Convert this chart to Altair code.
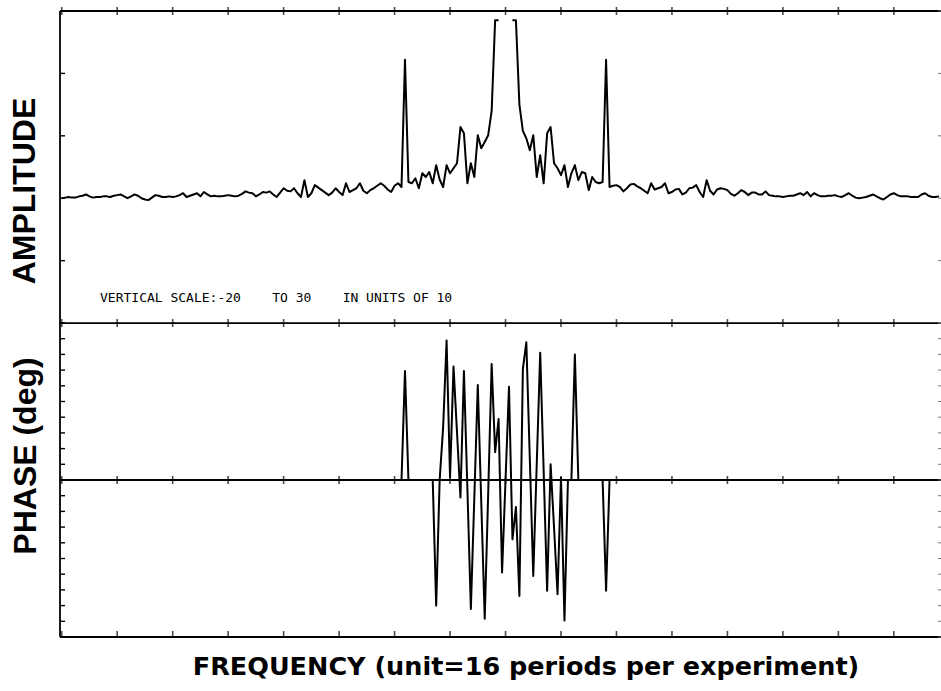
import altair as alt
import pandas as pd

# ---- data ----
amp_freq = list(range(-128, 126))
amp_values = [
    0.0, 0.1, 0.2, 0.1, 0.1, 0.3, 0.4, 0.6, 0.3, 0.1,
    0.2, 0.2, 0.3, 0.3, 0.2, 0.4, 0.5, 0.6, 0.3, 0.0,
    0.3, 0.6, 0.4, 0.0, -0.2, -0.3, 0.1, 0.5, 0.4, 0.2,
    0.2, 0.3, 0.2, 0.3, 0.5, 0.8, 0.2, 0.4, 0.6, 0.8,
    0.3, 1.0, 0.6, 0.3, 0.4, 0.3, 0.3, 0.4, 0.5, 0.4,
    0.3, 0.4, 0.7, 1.1, 0.9, 0.8, 0.3, 0.6, 1.0, 0.9,
    1.1, 0.6, 0.2, 0.9, 1.6, 1.2, 1.1, 1.6, 0.8, 0.2,
    2.9, 0.2, 0.8, 2.1, 1.7, 1.3, 0.9, 0.5, 0.9, 1.6,
    1.0, 0.5, 2.4, 1.0, 1.3, 1.6, 2.4, 1.2, 0.8, 1.3,
    1.6, 2.0, 2.4, 2.0, 1.4, 1.0, 2.0, 2.4, 1.8, 22.2,
    2.6, 2.4, 3.2, 1.6, 4.0, 3.4, 4.2, 2.4, 5.3, 3.0,
    1.8, 5.3, 4.0, 4.8, 5.6, 11.4, 10.4, 2.4, 5.6, 3.4,
    10.1, 8.0, 9.0, 10.1, 14.0, 28.5, 28.5, None, None, None,
    28.5, 28.5, 15.0, 10.8, 9.6, 7.7, 10.1, 3.4, 6.9, 2.4,
    10.4, 11.4, 5.6, 4.8, 3.7, 5.3, 1.8, 4.0, 5.3, 2.9,
    4.2, 4.0, 1.3, 3.4, 2.6, 2.4, 2.6, 22.2, 1.8, 2.0,
    2.1, 1.8, 1.1, 1.6, 2.2, 2.3, 1.9, 1.6, 1.2, 0.8,
    2.4, 1.4, 1.6, 1.8, 2.4, 0.8, 1.0, 1.4, 1.5, 0.6,
    0.9, 1.6, 1.7, 2.1, 1.0, 0.2, 2.9, 1.2, 0.6, 1.4,
    1.6, 1.5, 1.3, 0.7, 0.4, 0.8, 1.3, 1.0, 0.5, 0.9,
    0.9, 0.6, 0.6, 1.1, 0.5, 0.4, 0.3, 0.3, 0.2, 0.3,
    0.4, 0.4, 0.6, 0.8, 0.5, 1.0, 0.3, 0.8, 0.5, 0.3,
    0.3, 0.4, 0.4, 0.5, 0.3, 0.2, 0.5, 0.8, 0.4, 0.1,
    0.0, 0.1, 0.2, 0.4, 0.6, 0.3, 0.0, -0.2, 0.2, 0.6,
    0.8, 0.5, 0.3, 0.3, 0.3, 0.2, 0.2, 0.2, 0.6, 0.8,
    0.4, 0.2, 0.2, 0.3,
]

phase_freq = list(range(-31, 32))
phase_values = [
    0, 0, 125, 0, 0, 0, 0, 0, 0, 0,
    0, -144, 0, 60, 160, 3, 130, 55, -20, 125,
    -10, -148, -20, 109, -25, -159, -15, 133, 32, 70,
    -106, 0, 107, -68, -31, -133, 127, 158, 25, -110,
    18, 146, 10, -127, 18, -55, -131, 3, -161, 0,
    0, 144, 0, 0, 0, 0, 0, 0, 0, 0,
    -127, 0, 0,
]

freq_ticks = [-128, -112, -96, -80, -64, -48, -32, -16, 0, 16, 32, 48, 64, 80, 96, 112]
amp_ticks = [-20, -10, 0, 10, 20, 30]
phase_ticks = [-180, -162, -144, -126, -108, -90, -72, -54, -36, -18, 0,
               18, 36, 54, 72, 90, 108, 126, 144, 162, 180]
amp_frame = [30, -20]
phase_frame = [0, -180]

amp_title = ["AMPLITUDE"]
phase_title = ["PHASE (deg)"]
freq_title = ["FREQUENCY (unit=16 periods per experiment)"]
NB = "\u00a0"
scale_note = ["VERTICAL SCALE:-20" + NB * 4 + "TO 30" + NB * 4 + "IN UNITS OF 10"]

# ---- tables ----
amp_df = pd.DataFrame({"freq": amp_freq, "amp": amp_values}).dropna()
amp_df["seg"] = ["L" if f < 0 else "R" for f in amp_df["freq"]]
phase_df = pd.DataFrame({"freq": phase_freq, "phase": phase_values})

W, H = 881, 626
xs = alt.Scale(domain=[-128.5, 125.6], nice=False, zero=False)
amp_s = alt.Scale(domain=[-70.3, 30], nice=False, zero=False)
ph_s = alt.Scale(domain=[-180, 537.7], nice=False, zero=False)

X = lambda f: alt.X(f, type="quantitative", scale=xs, axis=None)
YA = lambda f: alt.Y(f, type="quantitative", scale=amp_s, axis=None)
YP = lambda f: alt.Y(f, type="quantitative", scale=ph_s, axis=None)

amp_line = alt.Chart(amp_df).mark_line(color="black", strokeWidth=2, strokeJoin="round").encode(
    x=X("freq"), y=YA("amp"), detail="seg:N")

phase_line = alt.Chart(phase_df).mark_line(color="black", strokeWidth=2, strokeJoin="round").encode(
    x=X("freq"), y=YP("phase"))

amp_frame_lines = alt.Chart(pd.DataFrame({"v": amp_frame})).mark_rule(color="black", strokeWidth=1.8).encode(
    y=YA("v"))
phase_frame_lines = alt.Chart(pd.DataFrame({"v": phase_frame})).mark_rule(color="black", strokeWidth=1.8).encode(
    y=YP("v"))
left_border = alt.Chart(pd.DataFrame({"v": [0]})).mark_rule(color="black", strokeWidth=1.8).encode(
    x=alt.value(0), y=alt.value(0), y2=alt.value(H))

amp_tick_df = pd.DataFrame({"v": amp_ticks})
phase_tick_df = pd.DataFrame({"v": phase_ticks})
amp_lt = alt.Chart(amp_tick_df).mark_rule(color="black", strokeWidth=1.4).encode(
    y=YA("v"), x=alt.value(0), x2=alt.value(5))
amp_rt = alt.Chart(amp_tick_df).mark_rule(color="#777777", strokeWidth=1).encode(
    y=YA("v"), x=alt.value(W - 3), x2=alt.value(W))
ph_lt = alt.Chart(phase_tick_df).mark_rule(color="black", strokeWidth=1.4).encode(
    y=YP("v"), x=alt.value(0), x2=alt.value(5))
ph_rt = alt.Chart(phase_tick_df).mark_rule(color="#777777", strokeWidth=1).encode(
    y=YP("v"), x=alt.value(W - 3), x2=alt.value(W))

amp_xt_df = pd.DataFrame([(f, v) for v in amp_frame for f in freq_ticks], columns=["freq", "v"])
ph_zero_df = pd.DataFrame([(f, 0) for f in freq_ticks], columns=["freq", "v"])
ph_bot_df = pd.DataFrame([(f, -180) for f in freq_ticks], columns=["freq", "v"])
amp_xt = alt.Chart(amp_xt_df).mark_tick(orient="vertical", size=8, thickness=1.6, color="black").encode(
    x=X("freq"), y=YA("v"))
ph_xt = alt.Chart(ph_zero_df).mark_tick(orient="vertical", size=8, thickness=1.6, color="black").encode(
    x=X("freq"), y=YP("v"))
ph_bt = alt.Chart(ph_bot_df).mark_tick(orient="vertical", size=6, thickness=1.6, color="black", yOffset=-3).encode(
    x=X("freq"), y=YP("v"))

title_font = "Liberation Sans"
t_amp = alt.Chart(pd.DataFrame({"t": amp_title})).mark_text(
    font=title_font, fontSize=32, fontWeight="bold", angle=270, align="center", baseline="middle",
    color="black").encode(text="t:N", x=alt.value(-35), y=alt.value(180))
t_ph = alt.Chart(pd.DataFrame({"t": phase_title})).mark_text(
    font=title_font, fontSize=32, fontWeight="bold", angle=270, align="center", baseline="middle",
    color="black").encode(text="t:N", x=alt.value(-34), y=alt.value(445))
t_fr = alt.Chart(pd.DataFrame({"t": freq_title})).mark_text(
    font="DejaVu Sans", fontSize=25.5, fontWeight="bold", align="center", baseline="middle",
    color="black").encode(text="t:N", x=alt.value(466), y=alt.value(656))
t_note = alt.Chart(pd.DataFrame({"t": scale_note})).mark_text(
    font="DejaVu Sans Mono", fontSize=13, align="left", baseline="middle", color="black").encode(
    text="t:N", x=alt.value(40), y=alt.value(287))

chart = alt.layer(
    amp_frame_lines, phase_frame_lines, left_border, amp_lt, amp_rt, ph_lt, ph_rt,
    amp_xt, ph_xt, ph_bt, amp_line, phase_line, t_amp, t_ph, t_fr, t_note,
).resolve_scale(y="independent").properties(
    width=W, height=H,
    autosize=alt.AutoSizeParams(type="none"),
    padding={"left": 60, "top": 11, "right": 0, "bottom": 54},
    background="white",
).configure_view(stroke=None)

chart.save("out.html", embed_options={"renderer": "svg", "actions": False})
